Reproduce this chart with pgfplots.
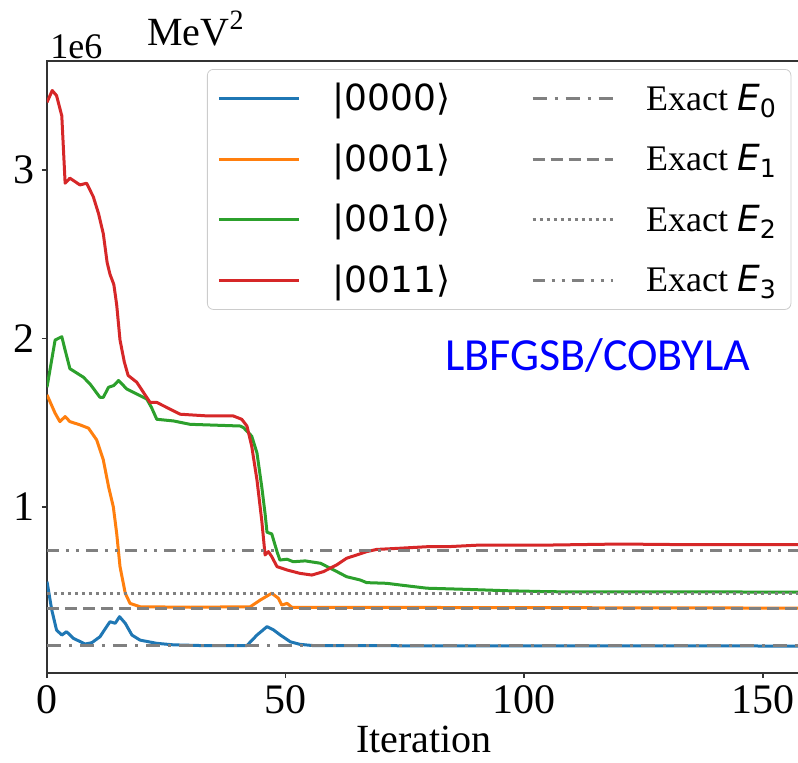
\documentclass[border=0pt]{standalone}
\usepackage{fontspec}
\setmainfont{Liberation Serif}
\newfontfamily\dejavu{DejaVu Sans}
\newfontfamily\carlito{Carlito}
\usepackage{pgfplots}
\pgfplotsset{compat=1.18}

\definecolor{tabblue}{HTML}{1F77B4}
\definecolor{taborange}{HTML}{FF7F0E}
\definecolor{tabgreen}{HTML}{2CA02C}
\definecolor{tabred}{HTML}{D62728}
\definecolor{exactgray}{HTML}{808080}

% energies in units of 1e6 MeV^2
\newcommand{\Eo}{0.177}
\newcommand{\Ei}{0.399}
\newcommand{\Eii}{0.488}
\newcommand{\Eiii}{0.741}
\newcommand{\ket}[1]{{\dejavu |#1⟩}\rule{24.5pt}{0pt}}

\begin{document}
\begin{tikzpicture}
\begin{axis}[
    name=ax,
    scale only axis,
    width=377pt, height=306pt,
    xmin=0, xmax=158,
    ymin=0.015, ymax=3.645,
    xtick={0,50,100,150},
    ytick={1,2,3},
    xtick pos=left, ytick pos=left,
    tick align=outside,
    major tick length=2.5pt,
    axis line style={line width=0.8pt, black!80},
    tick style={line width=0.8pt, black!80},
    /pgf/number format/assume math mode=true,
    tick label style={font=\fontsize{21}{21}\selectfont},
    xlabel={Iteration},
    xlabel style={font=\fontsize{20}{20}\selectfont, at={(axis description cs:0.5,0)}, anchor=base, yshift=-39.5pt},
    legend columns=2,
    legend cell align=left,
    legend image code/.code={\draw[#1] (0pt,0pt) -- (40pt,0pt);},
    legend style={
        at={(rel axis cs:0,1)}, anchor=north west, xshift=80pt, yshift=-4pt,
        draw=black!20, rounded corners=3pt, fill=white, fill opacity=0.8, text opacity=1,
        font=\fontsize{18}{18}\selectfont,
        row sep=11pt, column sep=14pt, inner xsep=5pt, inner ysep=5pt,
    },
    every axis plot/.append style={line width=1.5pt, line join=round},
]
\addplot[tabblue] coordinates {
(0,0.557) (1,0.389) (2,0.27) (3.1,0.24) (4.1,0.26) (5.5,0.221) (8,0.187) (9.4,0.195)
(11.1,0.23) (12.5,0.29) (13.2,0.319) (14.3,0.31) (15.2,0.349) (16.4,0.31) (17.8,0.24)
(19.5,0.21) (23,0.191) (26.5,0.182) (32,0.178) (41.9,0.178) (44,0.24) (46.1,0.29) (47.5,0.27)
(48.9,0.24) (51,0.20) (53,0.185) (56,0.177) (158,0.175)
};
\addlegendentry{\ket{0000}}
\addplot[exactgray, dash pattern=on 7pt off 4pt on 1.5pt off 4pt] coordinates {(0,\Eo) (160,\Eo)};
\addlegendentry{Exact {\dejavu\itshape E}\textsubscript{\dejavu 0}}
\addplot[taborange] coordinates {
(0,1.665) (1.7,1.556) (2.7,1.506) (3.8,1.536) (4.8,1.506) (6.9,1.487) (8.7,1.467)
(10.4,1.398) (11.8,1.279) (12.9,1.12) (13.9,1.0) (14.6,0.844) (15.3,0.646) (16.4,0.488)
(17.4,0.428) (19.5,0.408) (30,0.405) (42.6,0.408) (44.7,0.448) (47.1,0.488) (48.5,0.458)
(49.2,0.418) (50.3,0.428) (51.3,0.405) (158,0.400)
};
\addlegendentry{\ket{0001}}
\addplot[exactgray, dash pattern=on 6pt off 3pt] coordinates {(0,\Ei) (160,\Ei)};
\addlegendentry{Exact {\dejavu\itshape E}\textsubscript{\dejavu 1}}
\addplot[tabgreen] coordinates {
(0,1.71) (1.7,1.99) (3.1,2.01) (3.8,1.93) (4.8,1.82) (7.6,1.77) (9,1.73) (11.1,1.65)
(11.8,1.65) (12.9,1.71) (14,1.72) (15,1.75) (16.7,1.70) (18.8,1.67) (20.9,1.64)
(21.9,1.59) (23,1.52) (26.5,1.51) (30,1.49) (40.5,1.48) (41.2,1.47) (42.9,1.42)
(44,1.32) (45,1.12) (45.7,0.96) (46.1,0.85) (47.1,0.84) (48.2,0.735) (48.8,0.685)
(50.3,0.69) (51.6,0.675) (54.1,0.68) (57.3,0.666) (60.1,0.626) (62.8,0.586)
(65.6,0.567) (67,0.551) (71.2,0.547) (74,0.537) (79.6,0.518) (88,0.511) (96.4,0.503)
(105.5,0.497) (158,0.495)
};
\addlegendentry{\ket{0010}}
\addplot[exactgray, dash pattern=on 1.5pt off 2pt] coordinates {(0,\Eii) (160,\Eii)};
\addlegendentry{Exact {\dejavu\itshape E}\textsubscript{\dejavu 2}}
\addplot[tabred] coordinates {
(0,3.40) (1.1,3.47) (2,3.44) (3.1,3.32) (3.8,2.92) (4.8,2.95) (6.9,2.91) (8.3,2.92)
(9.7,2.84) (10.8,2.74) (11.8,2.62) (12.6,2.45) (13.2,2.38) (14.0,2.32) (14.6,2.20)
(15.3,1.99) (16.2,1.86) (17.0,1.78) (18.8,1.74)
(21.6,1.62) (23,1.62) (25.1,1.59) (27.9,1.55) (33.5,1.54) (39,1.54) (40.8,1.52)
(41.9,1.48) (42.9,1.36) (44,1.16) (45,0.92) (45.7,0.715) (46.4,0.735) (47.1,0.705)
(48.2,0.646) (50.3,0.626) (53,0.606) (55.5,0.596) (57.9,0.616) (60.7,0.656)
(62.8,0.696) (64.9,0.715) (67,0.735) (69.1,0.748) (73.9,0.755) (79.6,0.764)
(84.5,0.765) (90.8,0.774) (105.5,0.774) (120,0.780) (135,0.776) (158,0.776)
};
\addlegendentry{\ket{0011}}
\addplot[exactgray, dash pattern=on 6pt off 3.5pt on 1.5pt off 3.5pt on 1.5pt off 3.5pt] coordinates {(0,\Eiii) (160,\Eiii)};
\addlegendentry{Exact {\dejavu\itshape E}\textsubscript{\dejavu 3}}

\node[font=\carlito\fontsize{23}{23}\selectfont, text=blue, inner sep=0pt]
  at (axis cs:115.4,1.9) {LBFGSB/COBYLA};
\end{axis}
\node[anchor=base west, font=\fontsize{18}{18}\selectfont, inner sep=0pt]
  at ([xshift=1.5pt, yshift=1.5pt]ax.north west) {1e6};
\node[anchor=base west, font=\fontsize{20}{20}\selectfont, inner sep=0pt]
  at ([xshift=50pt, yshift=8pt]ax.north west) {MeV\textsuperscript{2}};
\pgfresetboundingbox
\path ([xshift=-23.5pt, yshift=-44.5pt]ax.south west) rectangle ++(399pt,381pt);
\end{tikzpicture}
\end{document}
